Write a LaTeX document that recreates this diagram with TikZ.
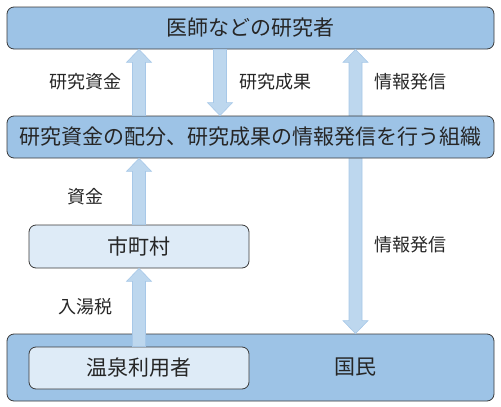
\documentclass[tikz,border=0pt]{standalone}
\usepackage{fontspec}
\setmainfont{Noto Sans CJK JP}
\usetikzlibrary{calc}
\definecolor{boxmid}{HTML}{9DC3E6}
\definecolor{boxlight}{HTML}{DEEBF7}
\definecolor{arrfill}{HTML}{BDD7EE}
\definecolor{arrline}{HTML}{A7C8E8}
\definecolor{edge}{HTML}{3A3A3A}
\newcommand\blockup[2]{% from #1 (base) to #2 (tip), pointing up
  \filldraw[blockarrow] ($(#1)+(-6.5,0)$) -- ($(#2)+(-6.5,13)$) -- ($(#2)+(-12.5,13)$) -- (#2)
    -- ($(#2)+(12.5,13)$) -- ($(#2)+(6.5,13)$) -- ($(#1)+(6.5,0)$) -- cycle;}
\newcommand\blockdown[2]{% from #1 (base) to #2 (tip), pointing down
  \filldraw[blockarrow] ($(#1)+(-6.5,0)$) -- ($(#2)+(-6.5,-13)$) -- ($(#2)+(-12.5,-13)$) -- (#2)
    -- ($(#2)+(12.5,-13)$) -- ($(#2)+(6.5,-13)$) -- ($(#1)+(6.5,0)$) -- cycle;}
\newcommand\blockboth[2]{% tip #1 top, tip #2 bottom
  \filldraw[blockarrow] (#1) -- ($(#1)+(12.5,13)$) -- ($(#1)+(6.5,13)$) -- ($(#2)+(6.5,-13)$)
    -- ($(#2)+(12.5,-13)$) -- (#2) -- ($(#2)+(-12.5,-13)$) -- ($(#2)+(-6.5,-13)$)
    -- ($(#1)+(-6.5,13)$) -- ($(#1)+(-12.5,13)$) -- cycle;}
\begin{document}
\begin{tikzpicture}[x=1pt,y=-1pt,
  bigbox/.style={draw=edge, line width=0.8pt, fill=boxmid, rounded corners=7pt, inner sep=0pt,
    minimum width=487pt, font=\fontsize{21}{24}\selectfont, text=black!85},
  smallbox/.style={draw=edge, line width=0.8pt, fill=boxlight, rounded corners=7pt, inner sep=0pt,
    minimum width=220pt, minimum height=42pt, font=\fontsize{21}{24}\selectfont, text=black!85},
  lbl/.style={font=\fontsize{18}{20}\selectfont, text=black!85, inner sep=0pt},
  blockarrow/.style={fill=arrfill, draw=arrline, line width=0.6pt, line join=miter}]
\useasboundingbox (0,0) rectangle (501,407);
\node[bigbox, minimum height=42pt] (top) at (250.5,28) {医師などの研究者};
\coordinate (a3top) at (355.5,0 |- top.south);
\node[bigbox, minimum height=67pt] (nation) at (250.5,367.5) {};
\coordinate (a3bot) at (355.5,0 |- nation.north);
\blockboth{a3top}{a3bot}
\node[bigbox, minimum height=42pt] (mid) at (250.5,137) {研究資金の配分、研究成果の情報発信を行う組織};
\node[smallbox, minimum height=43pt] (city) at (139,246.5) {市町村};
\node[smallbox] (user) at (139,368) {温泉利用者};
\node[font=\fontsize{21}{24}\selectfont, text=black!85, inner sep=0pt] (nationtext) at (355,367) {国民};
% arrows
\coordinate (a1b) at (139,0 |- mid.north);
\coordinate (a1t) at (139,0 |- top.south);
\blockup{a1b}{a1t}
\coordinate (a2b) at (220,0 |- top.south);
\coordinate (a2t) at (220,0 |- mid.north);
\blockdown{a2b}{a2t}
\coordinate (a4b) at (139,0 |- city.north);
\coordinate (a4t) at (139,0 |- mid.south);
\blockup{a4b}{a4t}
\coordinate (a5b) at (139,0 |- user.north);
\coordinate (a5t) at (139,0 |- city.south);
\blockup{a5b}{a5t}
% labels
\node[lbl] (l1) at (85,82) {研究資金};
\node[lbl] (l2) at (275,82) {研究成果};
\node[lbl] (l3) at (410,82) {情報発信};
\node[lbl] (l4) at (85,197) {資金};
\node[lbl] (l5) at (410,245) {情報発信};
\node[lbl] (l6) at (85,307) {入湯税};
\end{tikzpicture}
\end{document}
